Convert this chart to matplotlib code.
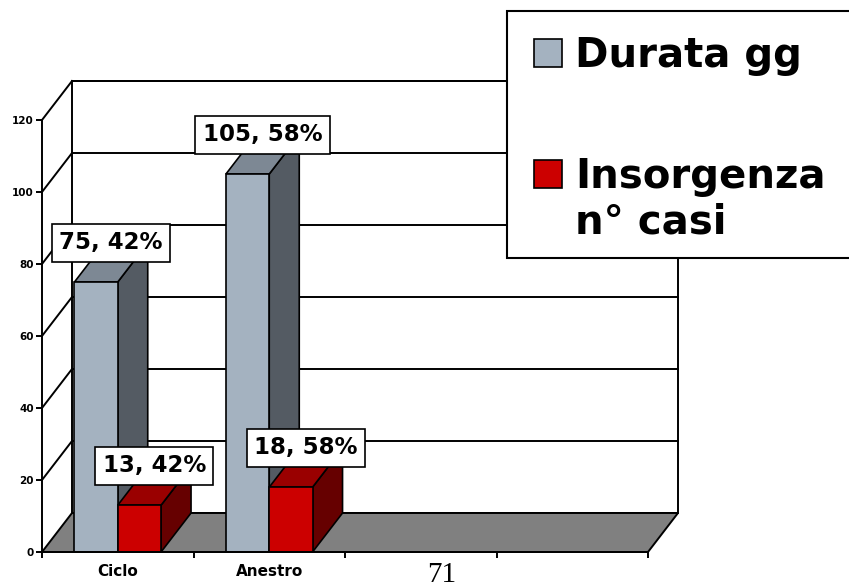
import matplotlib
matplotlib.use("Agg")
import matplotlib.pyplot as plt
from matplotlib.patches import Polygon, Rectangle

# data
categories = ["Ciclo", "Anestro", "", ""]
series_names = ["Durata gg", "Insorgenza n° casi"]
durata = [75, 105]
insorgenza = [13, 18]
y_ticks = [0, 20, 40, 60, 80, 100, 120]

# face colours per series: front, top, side
face_colors = [
    ("#A4B2C0", "#7D8894", "#545B63"),
    ("#CC0000", "#9A0000", "#660000"),
]

W, H = 849, 588
fig = plt.figure(figsize=(W / 100, H / 100), dpi=100)

# front plane of the chart in pixels
x_left, x_right = 42, 648
y_bottom, y_top = 552, 120
ax = fig.add_axes([x_left / W, (H - y_bottom) / H,
                   (x_right - x_left) / W, (y_bottom - y_top) / H])
ax.set_xlim(0, len(categories))
ax.set_ylim(0, 120)
ax.patch.set_visible(False)

# oblique depth offset (30 px right, 39 px up) expressed in data units
dx = 30 * len(categories) / (x_right - x_left)
dy = 39 * 120 / (y_bottom - y_top)

LW = 1.4
ncat = len(categories)

# back wall and gridlines
ax.add_patch(Rectangle((dx, dy), ncat, 120, facecolor="white",
                       edgecolor="black", lw=LW, clip_on=False, zorder=1))
for t in y_ticks[1:]:
    ax.plot([dx, ncat + dx], [t + dy, t + dy], color="black", lw=LW,
            clip_on=False, zorder=1.1)
    ax.plot([0, dx], [t, t + dy], color="black", lw=LW,
            clip_on=False, zorder=1.1)

# floor
ax.add_patch(Polygon([(0, 0), (ncat, 0), (ncat + dx, dy), (dx, dy)],
                     closed=True, facecolor="#808080", edgecolor="black",
                     lw=LW, clip_on=False, zorder=1.2))

# bars (gap width 150%)
bw = 1 / 3.5
gap = 0.75 * bw
series = [durata, insorgenza]
z = 2
for i in range(len(durata)):
    for j, vals in enumerate(series):
        v = vals[i]
        front, top, side = face_colors[j]
        x0 = i + gap + j * bw
        x1 = x0 + bw
        ax.add_patch(Polygon([(x1, 0), (x1 + dx, dy), (x1 + dx, v + dy), (x1, v)],
                             facecolor=side, edgecolor="black", lw=1.2,
                             clip_on=False, zorder=z))
        ax.add_patch(Polygon([(x0, v), (x1, v), (x1 + dx, v + dy), (x0 + dx, v + dy)],
                             facecolor=top, edgecolor="black", lw=1.2,
                             clip_on=False, zorder=z))
        ax.add_patch(Rectangle((x0, 0), bw, v, facecolor=front,
                               edgecolor="black", lw=1.2, clip_on=False,
                               zorder=z))
        z += 0.1

# data labels: value and share of the series total
for j, vals in enumerate(series):
    total = sum(vals)
    for i, v in enumerate(vals):
        x0 = i + gap + j * bw
        pct = round(100 * v / total)
        ax.annotate(f"{v}, {pct}%", xy=(x0 + bw / 2 + dx / 2, v + dy / 2),
                    xytext=(0, 6), textcoords="offset points",
                    ha="center", va="bottom", fontsize=16.5,
                    fontweight="bold", zorder=5, annotation_clip=False,
                    bbox=dict(boxstyle="square,pad=0.32", facecolor="white",
                              edgecolor="black", lw=1.2))

# axes
for s in ["top", "right"]:
    ax.spines[s].set_visible(False)
for s in ["left", "bottom"]:
    ax.spines[s].set_linewidth(LW)
    ax.spines[s].set_zorder(4)
ax.set_yticks(y_ticks)
ax.set_yticklabels([str(t) for t in y_ticks], fontsize=7.5, fontweight="bold")
ax.tick_params(axis="y", direction="out", length=4.5, width=LW, pad=1.5)
ax.set_xticks(range(ncat + 1))
ax.set_xticklabels([])
ax.set_xticks([i + 0.5 for i in range(ncat)], minor=True)
ax.set_xticklabels(categories, minor=True, fontsize=11, fontweight="bold")
ax.tick_params(axis="x", which="major", direction="out", length=4.5, width=LW)
ax.tick_params(axis="x", which="minor", length=0, pad=9)

# legend and page number, drawn in pixel space over the chart
ov = fig.add_axes([0, 0, 1, 1])
ov.set_xlim(0, W)
ov.set_ylim(H, 0)
ov.axis("off")
ov.set_zorder(3)
ov.add_patch(Rectangle((507, 11), 360, 247, facecolor="white",
                       edgecolor="black", lw=1.5))
legend_rows = [(67, [series_names[0]]),
               (188, ["Insorgenza", "n° casi"])]
for (base, lines), (front, _, _) in zip(legend_rows, face_colors):
    ov.add_patch(Rectangle((534, base - 28), 28, 28, facecolor=front,
                           edgecolor="black", lw=1.2))
    for k, line in enumerate(lines):
        ov.text(575, base + 45 * k, line, fontsize=29, fontweight="bold",
                va="baseline", ha="left")

ov.text(442, 588, "71", fontsize=21, family="Liberation Serif",
        ha="center", va="bottom")

fig.savefig("out.png", dpi=100)
